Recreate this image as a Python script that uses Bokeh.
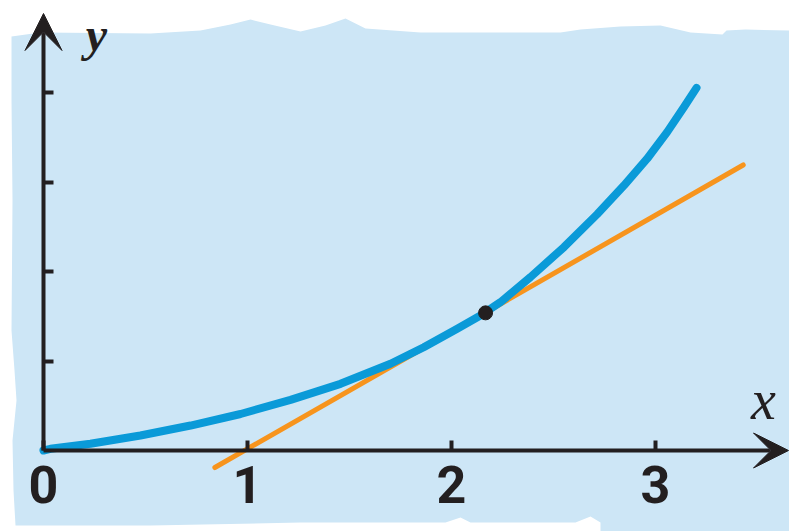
from bokeh.plotting import figure
from bokeh.models import Range1d, FixedTicker, Arrow, VeeHead, Label, LinearAxis
from bokeh.embed import file_html
from bokeh.resources import INLINE

# ---- data (y in tick units) ----
curve_x = [0, 0.034, 0.23, 0.475, 0.721, 0.966, 1.211, 1.456, 1.701, 1.864, 2.028, 2.142,
           2.24, 2.387, 2.551, 2.714, 2.845, 2.959, 3.057, 3.139, 3.201]
curve_y = [0, 0.019, 0.075, 0.168, 0.279, 0.408, 0.566, 0.745, 0.969, 1.154, 1.36, 1.508,
           1.657, 1.937, 2.272, 2.64, 2.96, 3.26, 3.557, 3.836, 4.052]
tangent_x = [0.84, 3.43]
tangent_y = [-0.19, 3.19]
point_x = [2.167]
point_y = [1.538]
x_ticks = [0, 1, 2, 3]
x_tick_labels = ["0", "1", "2", "3"]
y_ticks = [1, 2, 3, 4]

# ---- pixel mapping helpers (image px -> data) for decoration ----
X0, SX, Y0, SY = 43.0, 204.0, 450.0, 89.5
def px2x(px): return (px - X0) / SX
def px2y(py): return (Y0 - py) / SY

W, H = 789, 531
p = figure(width=W, height=H, output_backend="svg", toolbar_location=None,
           x_range=Range1d(px2x(0), px2x(W)), y_range=Range1d(px2y(H), px2y(0)),
           min_border=0, outline_line_color=None,
           background_fill_color="white", border_fill_color="white",
           x_axis_type=None, y_axis_type=None)
p.grid.visible = False

# paper-like light blue background
edge = [(11,36),(40,32),(150,33),(200,30),(230,24),(250,19),(270,24),(300,31),(325,25),(345,18),
        (365,28),(420,32),(560,32),(580,29),(620,26),(660,25),(690,32),(722,34),(726,30),(745,29),
        (789,30),(789,531),(600,531),(600,522),(590,516),(575,522),(470,522),(460,517),(445,522),
        (300,522),(150,525),(15,525),(13,490),(12,440),(16,400),(14,370),(11,330),(12,200),(11,100)]
p.patch([px2x(a) for a, b in edge], [px2y(b) for a, b in edge],
        fill_color="#cde6f6", line_color=None)

INK = "#231f20"

# axes (ticks + labels) fixed at the origin
xa = LinearAxis(fixed_location=0, ticker=FixedTicker(ticks=x_ticks),
                major_label_overrides={t: l for t, l in zip(x_ticks, x_tick_labels)},
                axis_line_color=None, major_tick_in=10, major_tick_out=0,
                major_tick_line_width=4, major_tick_line_color=INK,
                minor_tick_line_color=None, major_label_standoff=15,
                major_label_text_font="Roboto", major_label_text_font_style="bold",
                major_label_text_font_size="52px", major_label_text_color=INK)
p.add_layout(xa, "below")
ya = LinearAxis(fixed_location=0, ticker=FixedTicker(ticks=y_ticks),
                major_label_overrides={t: "" for t in y_ticks},
                axis_line_color=None, major_tick_in=10, major_tick_out=0,
                major_tick_line_width=4, major_tick_line_color=INK,
                minor_tick_line_color=None)
p.add_layout(ya, "left")

# axis lines with arrow heads
p.add_layout(Arrow(x_start=0, y_start=0, x_end=px2x(788), y_end=0,
                   line_width=4, line_color=INK,
                   end=VeeHead(size=35, fill_color=INK, line_color=INK, line_width=1)))
p.add_layout(Arrow(x_start=0, y_start=0, x_end=0, y_end=px2y(13),
                   line_width=4, line_color=INK,
                   end=VeeHead(size=37, fill_color=INK, line_color=INK, line_width=1)))

# tangent line and curve
p.line(tangent_x, tangent_y, line_color="#f7941d", line_width=5, line_cap="round")
p.line(curve_x, curve_y, line_color="#0a9ad8", line_width=8, line_cap="round", line_join="round")
p.scatter(point_x, point_y, size=14, fill_color=INK, line_color=INK)

# axis names
p.add_layout(Label(x=px2x(96), y=px2y(60), text="y", text_align="center",
                   text_font="Liberation Serif", text_font_style="bold italic",
                   text_font_size="48px", text_color=INK))
p.add_layout(Label(x=px2x(763), y=px2y(430), text="x", text_align="center",
                   text_font="Liberation Serif", text_font_style="italic",
                   text_font_size="56px", text_color=INK))

open("out.html", "w").write(file_html(p, INLINE))
